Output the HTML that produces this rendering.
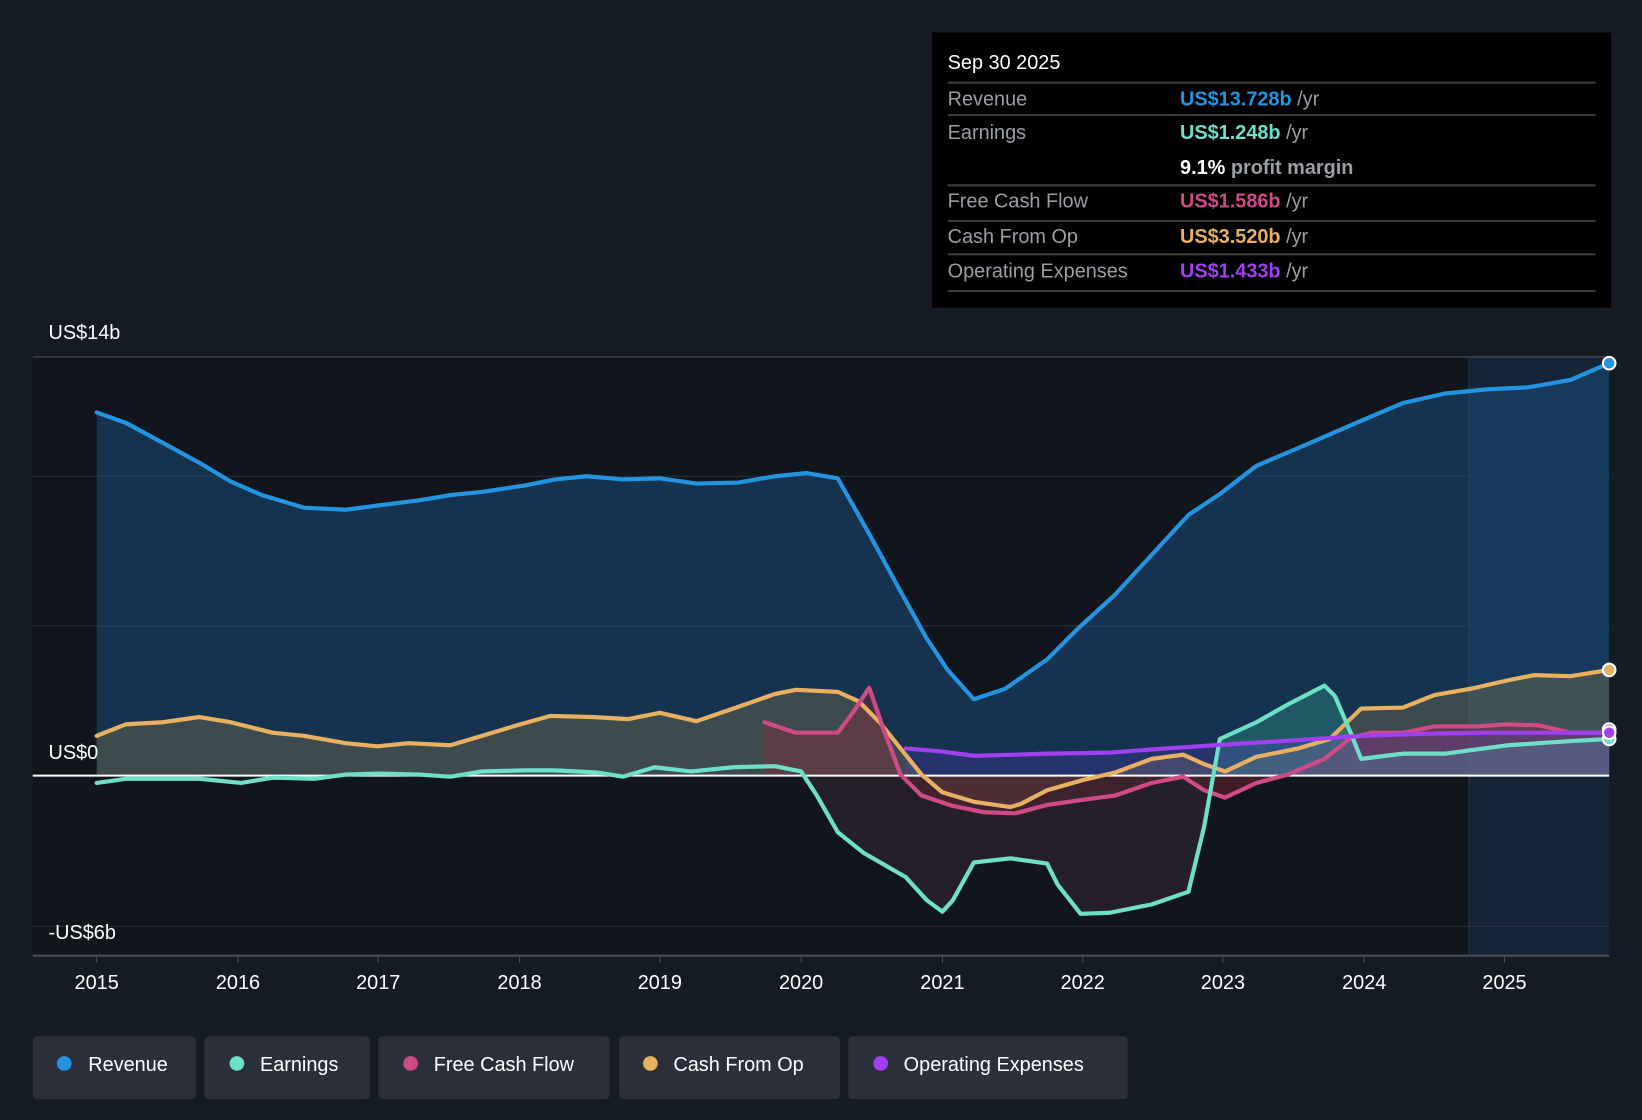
<!DOCTYPE html>
<html><head><meta charset="utf-8"><style>
html,body{margin:0;padding:0;background:#151b24;}
svg{display:block;font-family:"Liberation Sans",sans-serif;}
</style></head><body>
<svg width="1642" height="1120" viewBox="0 0 1568 1070" xmlns="http://www.w3.org/2000/svg">
<rect x="0" y="0" width="1568" height="1070" fill="#151b24"/>
<rect x="31" y="341" width="1372" height="572" fill="#11151c"/>
<rect x="1403" y="341" width="134" height="572" fill="#152436"/>
<!-- grid -->
<g stroke="#2b323d" stroke-width="1">
<line x1="31" y1="341" x2="1537" y2="341" stroke="#4a505a"/>
<line x1="31" y1="455" x2="1537" y2="455"/>
<line x1="31" y1="598" x2="1537" y2="598"/>
<line x1="31" y1="885" x2="1537" y2="885"/>
<line x1="31" y1="913" x2="1537" y2="913" stroke="#4a505a" stroke-width="2"/>
</g>
<line x1="1403" y1="341" x2="1403" y2="913" stroke="#2e3a48"/>
<!-- revenue area -->
<polygon fill="#1a4a78" fill-opacity="0.55" points="92,741 92,394 120,404 155,423 190,442 220,460 250,473 290,485 330,487 360,483 400,478 430,473 460,470 500,464 530,458 560,455 595,458 630,457 665,462 705,461 740,455 770,452 800,457 830,510 860,565 885,610 905,640 930,668 960,658 1000,630 1030,600 1065,568 1100,530 1135,492 1165,472 1200,445 1240,428 1270,415 1300,402 1340,385 1380,376 1420,372 1460,370 1500,363 1537,347 1537,741"/>
<!-- cfo area -->
<polygon fill="#8a7a50" fill-opacity="0.35" points="92,741 92,703 120,692 155,690 190,685 220,690 260,700 290,703 330,710 360,713 390,710 430,712 460,703 490,694 525,684 565,685 600,687 630,681 665,689 700,677 740,663 760,659 800,661 820,670 840,690 860,715 880,740 900,757 930,766 965,771 975,768 1000,755 1035,745 1065,738 1100,725 1130,721 1150,730 1170,737 1200,723 1240,715 1270,706 1300,677 1340,676 1370,664 1405,658 1440,650 1465,645 1500,646 1537,640 1537,741"/>
<!-- fcf area -->
<polygon fill="#8a2a3a" fill-opacity="0.4" points="730,741 730,690 760,700 800,700 815,680 830,657 845,700 860,740 880,760 910,770 940,776 970,777 1000,769 1035,764 1065,760 1100,748 1130,742 1150,755 1170,762 1200,748 1230,740 1265,725 1290,705 1310,700 1340,700 1370,694 1410,694 1440,692 1470,693 1500,700 1537,700 1537,741"/>
<!-- earnings area -->
<polygon fill="#3a2a35" fill-opacity="0.5" points="740,741 765,737 780,760 800,795 825,815 865,838 885,860 900,871 910,860 930,824 965,820 1000,825 1010,845 1032,873 1060,872 1100,864 1135,852 1150,790 1160,741"/>
<polygon fill="#3fb8a0" fill-opacity="0.3" points="1160,741 1165,706 1200,690 1230,673 1265,655 1275,665 1290,700 1300,725 1340,720 1380,720 1410,716 1440,712 1500,708 1537,706 1537,741"/>
<polygon fill="#5a3ad0" fill-opacity="0.25" points="865,741 865,715 900,718 930,722 970,721 1000,720 1060,719 1100,716 1160,712 1240,707 1300,703 1360,701 1420,700 1537,700 1537,741"/>
<line x1="31" y1="741" x2="1537" y2="741" stroke="#ffffff" stroke-width="2"/>
<g fill="none" stroke-width="4" stroke-linejoin="round" stroke-linecap="round">
<polyline stroke="#e8b060" points="92,703 120,692 155,690 190,685 220,690 260,700 290,703 330,710 360,713 390,710 430,712 460,703 490,694 525,684 565,685 600,687 630,681 665,689 700,677 740,663 760,659 800,661 820,670 840,690 860,715 880,740 900,757 930,766 965,771 975,768 1000,755 1035,745 1065,738 1100,725 1130,721 1150,730 1170,737 1200,723 1240,715 1270,706 1300,677 1340,676 1370,664 1405,658 1440,650 1465,645 1500,646 1537,640"/>
<polyline stroke="#d04a88" points="730,690 760,700 800,700 815,680 830,657 845,700 860,740 880,760 910,770 940,776 970,777 1000,769 1035,764 1065,760 1100,748 1130,742 1150,755 1170,762 1200,748 1230,740 1265,725 1290,705 1310,700 1340,700 1370,694 1410,694 1440,692 1470,693 1500,700 1537,700"/>
<polyline stroke="#6ee0c8" points="92,748 120,744 190,744 230,748 260,743 300,744 330,740 360,739 400,740 430,742 460,737 500,736 530,736 570,738 595,742 625,733 660,737 700,733 740,732 765,737 780,760 800,795 825,815 865,838 885,860 900,871 910,860 930,824 965,820 1000,825 1010,845 1032,873 1060,872 1100,864 1135,852 1150,790 1165,706 1200,690 1230,673 1265,655 1275,665 1290,700 1300,725 1340,720 1380,720 1410,716 1440,712 1500,708 1537,706"/>
<polyline stroke="#a040f0" points="865,715 900,718 930,722 970,721 1000,720 1060,719 1100,716 1160,712 1240,707 1300,703 1360,701 1420,700 1537,700"/>
<polyline stroke="#2394e0" points="92,394 120,404 155,423 190,442 220,460 250,473 290,485 330,487 360,483 400,478 430,473 460,470 500,464 530,458 560,455 595,458 630,457 665,462 705,461 740,455 770,452 800,457 830,510 860,565 885,610 905,640 930,668 960,658 1000,630 1030,600 1065,568 1100,530 1135,492 1165,472 1200,445 1240,428 1270,415 1300,402 1340,385 1380,376 1420,372 1460,370 1500,363 1537,347"/>
</g>
<g stroke="#fff" stroke-width="2">
<circle cx="1537" cy="347" r="6" fill="#2394e0"/>
<circle cx="1537" cy="640" r="6" fill="#e8b060"/>
<circle cx="1537" cy="697" r="6" fill="#d04a88"/>
<circle cx="1537" cy="706" r="6" fill="#6ee0c8"/>
<circle cx="1537" cy="700" r="6" fill="#a040f0"/>
</g>
<g fill="#ffffff" font-size="19">
<text x="46" y="324">US$14b</text>
<text x="46" y="725">US$0</text>
<text x="46" y="897">-US$6b</text>
</g>
<g stroke="#4a505a"><line x1="92" y1="913" x2="92" y2="920"/><line x1="227" y1="913" x2="227" y2="920"/><line x1="361" y1="913" x2="361" y2="920"/><line x1="496" y1="913" x2="496" y2="920"/><line x1="630" y1="913" x2="630" y2="920"/><line x1="765" y1="913" x2="765" y2="920"/><line x1="900" y1="913" x2="900" y2="920"/><line x1="1034" y1="913" x2="1034" y2="920"/><line x1="1168" y1="913" x2="1168" y2="920"/><line x1="1303" y1="913" x2="1303" y2="920"/><line x1="1437" y1="913" x2="1437" y2="920"/></g>
<g fill="#ffffff" font-size="19" text-anchor="middle">
<text x="92" y="945">2015</text><text x="227" y="945">2016</text><text x="361" y="945">2017</text><text x="496" y="945">2018</text><text x="630" y="945">2019</text><text x="765" y="945">2020</text><text x="900" y="945">2021</text><text x="1034" y="945">2022</text><text x="1168" y="945">2023</text><text x="1303" y="945">2024</text><text x="1437" y="945">2025</text>
</g>
<!-- tooltip -->
<rect x="890" y="31" width="649" height="263" fill="#000000"/>
<g stroke="#3a3d42" stroke-width="2">
<line x1="905" y1="79" x2="1524" y2="79"/><line x1="905" y1="110" x2="1524" y2="110"/><line x1="905" y1="177" x2="1524" y2="177"/><line x1="905" y1="211" x2="1524" y2="211"/><line x1="905" y1="243" x2="1524" y2="243"/><line x1="905" y1="278" x2="1524" y2="278"/>
</g>
<g font-size="19">
<text x="905" y="66" fill="#fff">Sep 30 2025</text>
<text x="905" y="101" fill="#9a9ea5">Revenue</text>
<text x="1127" y="101" fill="#2394e0" font-weight="bold">US$13.728b <tspan fill="#9a9ea5" font-weight="normal">/yr</tspan></text>
<text x="905" y="133" fill="#9a9ea5">Earnings</text>
<text x="1127" y="133" fill="#6ee0c8" font-weight="bold">US$1.248b <tspan fill="#9a9ea5" font-weight="normal">/yr</tspan></text>
<text x="1127" y="166" fill="#fff" font-weight="bold">9.1% <tspan fill="#9a9ea5">profit margin</tspan></text>
<text x="905" y="198" fill="#9a9ea5">Free Cash Flow</text>
<text x="1127" y="198" fill="#d04a88" font-weight="bold">US$1.586b <tspan fill="#9a9ea5" font-weight="normal">/yr</tspan></text>
<text x="905" y="232" fill="#9a9ea5">Cash From Op</text>
<text x="1127" y="232" fill="#e8b060" font-weight="bold">US$3.520b <tspan fill="#9a9ea5" font-weight="normal">/yr</tspan></text>
<text x="905" y="265" fill="#9a9ea5">Operating Expenses</text>
<text x="1127" y="265" fill="#a040f0" font-weight="bold">US$1.433b <tspan fill="#9a9ea5" font-weight="normal">/yr</tspan></text>
</g>
<!-- legend -->
<g fill="#2a2f39">
<rect x="31" y="990" width="156" height="60" rx="4"/><rect x="195" y="990" width="158" height="60" rx="4"/><rect x="361" y="990" width="221" height="60" rx="4"/><rect x="591" y="990" width="211" height="60" rx="4"/><rect x="810" y="990" width="267" height="60" rx="4"/>
</g>
<circle cx="61" cy="1016" r="7" fill="#2394e0"/><circle cx="226" cy="1016" r="7" fill="#6ee0c8"/><circle cx="392" cy="1016" r="7" fill="#d04a88"/><circle cx="621" cy="1016" r="7" fill="#e8b060"/><circle cx="841" cy="1016" r="7" fill="#a040f0"/>
<g fill="#fff" font-size="19">
<text x="84" y="1023">Revenue</text><text x="248" y="1023">Earnings</text><text x="414" y="1023">Free Cash Flow</text><text x="643" y="1023">Cash From Op</text><text x="863" y="1023">Operating Expenses</text>
</g>
</svg>
</body></html>
